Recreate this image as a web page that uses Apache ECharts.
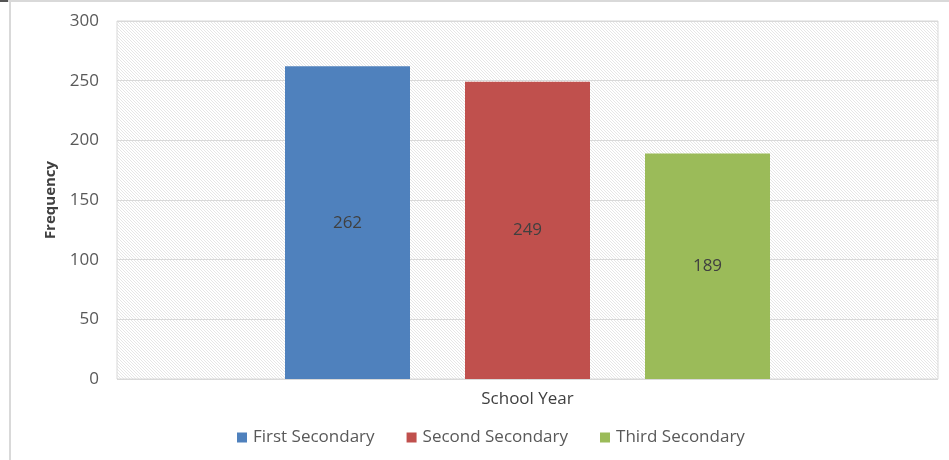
<!DOCTYPE html>
<html>
<head>
<meta charset="utf-8">
<script src="https://cdn.jsdelivr.net/npm/echarts@6/dist/echarts.min.js"></script>
<style>
  html, body { margin: 0; padding: 0; background: #fff; }
  #chart { width: 949px; height: 460px; }
</style>
</head>
<body>
<div id="chart"></div>
<script>
const categories = ['School Year']
const seriesNames = ['First Secondary', 'Second Secondary', 'Third Secondary']
const seriesValues = [262, 249, 189]
const colors = ['#4F81BD', '#C0504D', '#9BBB59']

// diagonal hatch for the plot area, like the office chart
const makeHatch = () => {
  const c = document.createElement('canvas')
  c.width = 6
  c.height = 6
  const ctx = c.getContext('2d')
  ctx.fillStyle = '#ffffff'
  ctx.fillRect(0, 0, 6, 6)
  ctx.strokeStyle = '#e6e6e6'
  ctx.lineWidth = 1
  for (let k = -6; k <= 6; k += 3) {
    ctx.beginPath()
    ctx.moveTo(k, 0)
    ctx.lineTo(k + 6, 6)
    ctx.stroke()
  }
  return c
}

const chart = echarts.init(document.getElementById('chart'))
const font = 'Open Sans, Noto Sans, sans-serif'

const option = {
  animation: false,
  textStyle: { fontFamily: font },
  grid: {
    left: 117,
    right: 11,
    top: 21,
    bottom: 81,
    show: true,
    backgroundColor: { image: makeHatch(), repeat: 'repeat' },
    borderColor: '#d9d9d9',
    borderWidth: 1
  },
  legend: {
    bottom: 9,
    left: 232,
    itemWidth: 10,
    itemHeight: 10,
    itemGap: 32,
    icon: 'rect',
    textStyle: { color: '#595959', fontSize: 17, fontFamily: font, padding: [0, 0, 0, 1] }
  },
  xAxis: {
    type: 'category',
    data: categories,
    axisLine: { show: false },
    axisTick: { show: false },
    axisLabel: { color: '#404040', fontSize: 17, margin: 12 }
  },
  yAxis: {
    type: 'value',
    min: 0,
    max: 300,
    interval: 50,
    name: 'Frequency',
    nameLocation: 'middle',
    nameGap: 59,
    nameRotate: 90,
    nameTextStyle: { color: '#404040', fontSize: 15, fontWeight: 'bold' },
    axisLine: { show: false },
    axisTick: { show: false },
    axisLabel: { color: '#595959', fontSize: 17, margin: 18 },
    splitLine: { lineStyle: { color: '#d9d9d9' } }
  },
  graphic: [
    { type: 'rect', shape: { x: 0, y: 0, width: 949, height: 2 }, style: { fill: '#d9d9d9' }, silent: true },
    { type: 'rect', shape: { x: 0, y: 0, width: 8, height: 2 }, style: { fill: '#555' }, silent: true },
    { type: 'rect', shape: { x: 9, y: 2, width: 2, height: 458 }, style: { fill: '#d9d9d9' }, silent: true }
  ],
  series: seriesNames.map((name, i) => ({
    name,
    type: 'bar',
    data: [seriesValues[i]],
    barWidth: 125,
    barGap: '44%',
    itemStyle: { color: colors[i] },
    label: {
      show: true,
      position: 'inside',
      color: '#404040',
      fontSize: 17,
      fontFamily: font
    }
  }))
}

chart.setOption(option)
</script>
</body>
</html>
